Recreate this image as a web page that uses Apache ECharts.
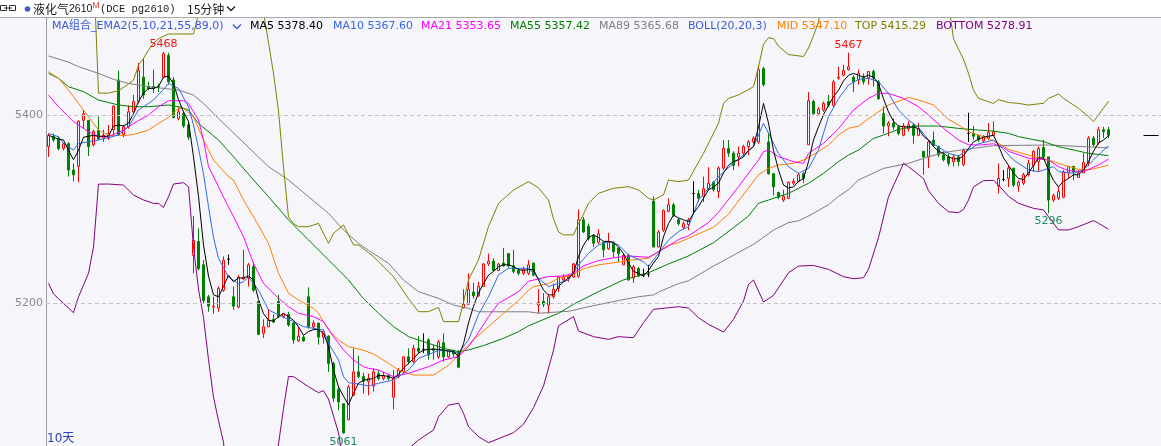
<!DOCTYPE html>
<html><head><meta charset="utf-8">
<script src="https://cdn.jsdelivr.net/npm/echarts@6/dist/echarts.min.js"></script>
<style>html,body{margin:0;padding:0;background:#f5f5fa;}#c{width:1161px;height:446px;}</style>
</head><body><div id="c"></div>
<script>
// ---- candle data (15-minute bars), index 0..212 ----
const opens = [
5367,5378,5376,5365,5370,5342,5346,5395,5395,5369,
5384,5376,5376,5385,5438,5380,5388,5404,5415,5441,
5431,5431,5431,5441,5464,5438,5397,5402,5390,5251,
5266,5241,5207,5196,5195,5214,5247,5207,5196,5226,
5227,5239,5202,5168,5175,5183,5202,5186,5188,5179,
5160,5164,5207,5175,5179,5164,5165,5136,5108,5093,
5076,5102,5127,5122,5117,5112,5125,5120,5123,5100,
5122,5127,5143,5138,5152,5151,5161,5152,5143,5158,
5143,5150,5149,5195,5199,5212,5208,5218,5242,5245,
5235,5243,5253,5240,5235,5232,5232,5243,5198,5202,
5198,5207,5216,5225,5227,5228,5229,5289,5282,5272,
5265,5265,5258,5264,5259,5241,5251,5227,5237,5231,
5231,5309,5260,5278,5298,5305,5289,5281,5284,5317,
5317,5314,5322,5329,5319,5344,5365,5360,5356,5360,
5367,5372,5372,5450,5372,5338,5318,5310,5312,5328,
5330,5338,5369,5415,5402,5406,5415,5411,5440,5443,
5449,5441,5438,5441,5440,5447,5436,5402,5389,5392,
5388,5379,5386,5390,5379,5362,5356,5374,5367,5358,
5356,5351,5356,5348,5381,5381,5379,5373,5376,5379,
5325,5332,5333,5344,5325,5328,5337,5347,5351,5366,
5356,5310,5312,5313,5339,5346,5334,5339,5350,5376,
5371,5385,5385];
const closes = [
5379,5374,5365,5370,5342,5337,5394,5402,5367,5383,
5375,5379,5381,5410,5380,5388,5404,5415,5448,5422,
5429,5429,5430,5466,5436,5398,5404,5389,5377,5267,
5237,5203,5197,5197,5216,5246,5247,5197,5228,5228,
5241,5214,5167,5175,5182,5180,5186,5189,5177,5161,
5165,5160,5175,5179,5164,5170,5136,5099,5095,5062,
5111,5127,5122,5117,5120,5127,5120,5123,5120,5120,
5129,5143,5138,5152,5149,5151,5145,5150,5159,5143,
5150,5146,5132,5199,5215,5208,5218,5242,5245,5235,
5242,5240,5240,5234,5232,5236,5241,5230,5201,5199,
5207,5215,5228,5228,5229,5242,5289,5276,5269,5264,
5274,5257,5265,5255,5253,5251,5225,5239,5229,5231,
5231,5260,5276,5299,5305,5294,5285,5285,5289,5317,
5312,5322,5328,5321,5344,5365,5360,5347,5360,5367,
5372,5376,5449,5433,5338,5324,5313,5314,5329,5330,
5337,5333,5416,5402,5407,5413,5411,5436,5441,5448,
5452,5436,5445,5436,5447,5440,5418,5389,5392,5388,
5381,5389,5390,5379,5386,5356,5372,5368,5358,5353,
5349,5356,5351,5363,5381,5378,5374,5378,5382,5383,
5333,5332,5344,5326,5329,5337,5349,5362,5365,5356,
5310,5315,5319,5340,5346,5340,5339,5350,5376,5369,
5385,5383,5379];
const lows = [
5356,5372,5363,5363,5335,5330,5329,5386,5357,5367,
5374,5372,5374,5378,5379,5377,5386,5404,5413,5418,
5427,5424,5425,5440,5433,5397,5395,5387,5374,5232,
5235,5200,5191,5189,5191,5212,5241,5193,5195,5225,
5218,5212,5166,5163,5175,5179,5184,5184,5175,5157,
5159,5159,5173,5172,5156,5157,5127,5095,5086,5061,
5076,5102,5120,5104,5102,5106,5118,5118,5118,5087,
5120,5125,5135,5136,5147,5147,5140,5140,5141,5138,
5142,5143,5131,5195,5199,5205,5207,5218,5240,5234,
5235,5239,5238,5232,5230,5230,5230,5229,5189,5196,
5189,5205,5212,5223,5223,5227,5227,5275,5267,5260,
5263,5249,5257,5249,5244,5241,5224,5222,5228,5228,
5228,5260,5260,5276,5297,5292,5283,5279,5278,5296,
5308,5308,5321,5319,5312,5342,5356,5342,5346,5356,
5358,5370,5370,5431,5337,5315,5311,5308,5311,5326,
5329,5328,5369,5401,5401,5404,5409,5409,5438,5442,
5448,5425,5433,5433,5433,5431,5417,5381,5378,5385,
5379,5378,5383,5370,5378,5337,5344,5367,5356,5351,
5346,5346,5346,5346,5372,5374,5372,5371,5374,5378,
5317,5330,5324,5324,5319,5326,5335,5340,5340,5354,
5296,5308,5310,5312,5333,5331,5334,5339,5346,5367,
5369,5376,5376];
const highs = [
5381,5381,5378,5371,5372,5349,5395,5406,5395,5385,
5399,5385,5390,5411,5448,5390,5411,5422,5456,5461,
5436,5449,5434,5468,5467,5441,5409,5404,5393,5293,
5280,5246,5209,5207,5218,5250,5252,5218,5230,5257,
5243,5244,5202,5183,5194,5188,5209,5190,5191,5180,
5175,5166,5217,5182,5179,5172,5166,5138,5111,5093,
5113,5152,5144,5126,5125,5131,5129,5127,5125,5129,
5131,5143,5152,5156,5165,5168,5163,5156,5161,5168,
5150,5150,5150,5215,5232,5222,5223,5243,5253,5248,
5243,5259,5253,5257,5237,5239,5246,5243,5215,5211,
5210,5221,5229,5231,5230,5243,5300,5292,5285,5274,
5279,5266,5275,5266,5259,5253,5253,5241,5239,5237,
5241,5314,5278,5300,5312,5307,5291,5287,5291,5330,
5321,5335,5345,5330,5346,5374,5374,5362,5367,5369,
5374,5378,5454,5452,5382,5339,5319,5321,5330,5333,
5339,5340,5425,5417,5409,5415,5422,5438,5452,5454,
5467,5443,5449,5445,5447,5449,5438,5410,5394,5397,
5390,5392,5394,5392,5392,5362,5374,5383,5368,5362,
5360,5358,5358,5365,5403,5389,5379,5379,5392,5394,
5349,5342,5347,5344,5331,5339,5353,5363,5367,5374,
5356,5317,5324,5342,5346,5346,5342,5360,5378,5378,
5388,5388,5388];

// ---- indicator lines ----
const ma5 = [
5379,5377,5375,5374,5363,5353,5363,5377,5378,5379,
5378,5378,5378,5389,5390,5389,5392,5402,5415,5424,
5429,5429,5431,5441,5442,5434,5417,5404,5394,5356,
5314,5262,5229,5209,5207,5218,5230,5223,5227,5227,
5229,5225,5204,5189,5182,5181,5186,5189,5186,5182,
5175,5166,5170,5172,5172,5168,5154,5129,5111,5101,
5092,5104,5115,5118,5119,5120,5123,5123,5122,5120,
5124,5131,5136,5141,5147,5150,5151,5151,5151,5150,
5149,5149,5143,5157,5179,5197,5211,5221,5230,5234,
5239,5241,5241,5239,5236,5235,5236,5236,5225,5214,
5209,5209,5218,5223,5227,5232,5250,5262,5270,5273,
5270,5266,5266,5265,5260,5253,5243,5234,5232,5229,
5235,5243,5250,5271,5285,5294,5291,5289,5287,5296,
5303,5312,5321,5324,5328,5339,5347,5351,5353,5356,
5363,5367,5388,5413,5392,5363,5342,5326,5323,5324,
5330,5333,5351,5374,5388,5401,5411,5420,5427,5437,
5443,5445,5443,5441,5443,5441,5434,5418,5404,5394,
5389,5388,5388,5388,5386,5378,5374,5367,5362,5360,
5356,5354,5354,5357,5365,5372,5375,5377,5378,5379,
5368,5355,5347,5339,5333,5332,5339,5347,5355,5355,
5342,5331,5324,5330,5333,5337,5337,5342,5351,5362,
5371,5374,5378.4];
const ma10Pts = [[0,5381],[2,5377.5],[3,5370.4],[5,5363.3],[6,5370.4],[8,5372.2],[10,5374],[14,5379.3],[16,5388.2],[18,5405.9],[21,5416.6],[23,5428],[24,5434.3],[26,5429],[28,5409.5],[29,5390],[30,5365],[31,5338],[32,5303],[33,5270],[34,5248],[35,5238],[36,5228],[38,5221],[39,5223],[40,5228],[42,5214],[44,5193],[46,5187.6],[49,5180.5],[51,5175.2],[53,5173.4],[55,5171.6],[56,5157.4],[58,5139.6],[59,5121.9],[60,5115.5],[62,5114],[64,5112],[66,5114.8],[69,5118.3],[72,5129],[74,5141.4],[78,5149.6],[80,5149.6],[82,5146.8],[84,5161],[86,5188],[88,5207.1],[90,5230.2],[92,5237.3],[96,5237.3],[98,5226.7],[100,5217.8],[102,5221.4],[104,5224.9],[106,5240.9],[108,5253.3],[110,5262.2],[112,5265.8],[114,5262.2],[116,5251.5],[119,5244.4],[120,5239.1],[122,5253.3],[124,5267.5],[126,5276.4],[128,5281.7],[130,5310.1],[134,5335],[137,5349.2],[141,5366.9],[143,5391.8],[144,5381.1],[146,5359.8],[148,5345.6],[150,5338.5],[152,5343.8],[154,5363.4],[156,5398.9],[158,5418],[160,5432.6],[162,5438.6],[164,5439.7],[166,5436.1],[168,5423.7],[170,5405.9],[172,5395.3],[174,5387.5],[176,5374],[178,5366.2],[180,5360],[182,5357],[184,5363.3],[186,5370],[189,5374],[191,5364],[193,5352.7],[196,5342.1],[198,5340.3],[200,5343.8],[201,5345.6],[202,5340.3],[205,5338.5],[207,5342.1],[209,5352.7],[211,5363.4],[212,5367.6]];
const ma21Pts = [[0,5421.9],[2,5409.5],[5,5393.5],[8,5382.8],[10,5377.5],[12,5377.5],[15,5384.6],[17,5391.7],[20,5400.6],[22,5409.5],[24,5415.9],[27,5415.9],[28,5413],[30,5395.3],[31,5374],[32,5345.6],[34,5324.3],[35,5313],[37,5292.3],[39,5271],[41,5242.6],[43,5221.3],[46,5205.3],[48,5196.5],[50,5189.4],[53,5185.8],[55,5180.5],[57,5164.5],[59,5150.3],[61,5139.6],[63,5132.5],[64,5130.8],[66,5129],[69,5121.9],[72,5125.4],[76,5132.5],[79,5139.6],[82,5143.2],[84,5153.9],[86,5169],[88,5185.8],[90,5200],[94,5212.4],[96,5223.5],[100,5228.5],[103,5229.2],[105,5232],[107,5240],[110,5245.5],[113,5248.5],[116,5250.5],[120,5249],[122,5255],[124,5261],[126,5268],[128,5272],[130,5279],[132,5286],[134,5297],[138,5324.3],[142,5352.7],[143,5361.6],[144,5363.4],[146,5356.3],[149,5350.9],[151,5349.1],[152,5359.8],[155,5370.5],[158,5386],[161,5405.9],[164,5418.4],[166,5423.7],[168,5423.7],[171,5418.4],[174,5409.5],[176,5400.6],[179,5386.4],[182,5374],[184,5369],[186,5368.6],[189,5370],[191,5366],[192,5362],[196,5354.5],[200,5352.7],[202,5345.6],[204,5341.4],[207,5340.3],[210,5347.4],[212,5353.65]];
const ma55Pts = [[0,5445],[2,5439.7],[4,5430.8],[7,5425.5],[10,5416.6],[14,5411.3],[17,5409.5],[20,5409.5],[24,5411.3],[26,5409.5],[28,5405.9],[30,5391.7],[34,5374],[37,5356.2],[41,5331.4],[44,5313.6],[48,5288.8],[52,5267.5],[56,5246.2],[60,5224.9],[63,5205],[66,5189.4],[69,5175.2],[72,5164.5],[76,5157.4],[79,5152.1],[82,5148.5],[84,5150.3],[87,5155],[91,5162.7],[94,5169.8],[96,5176],[98,5180.5],[102,5189.4],[105,5199],[110,5212.5],[115,5225],[120,5232.6],[124,5242],[128,5250.5],[133,5264.6],[137,5280.6],[140,5293],[142,5306.6],[144,5310.1],[148,5317.2],[152,5327.9],[155,5338.5],[158,5351],[160,5358],[162,5363.3],[165,5375.7],[167,5379.3],[170,5385.3],[174,5388.9],[178,5388.9],[182,5386.4],[186,5384.6],[189,5383.5],[192,5381.1],[194,5377.6],[199,5372.3],[202,5366.9],[205,5363.4],[208,5359.8],[212,5357.42]];
const ma89Pts = [[0,5463.5],[4,5457],[6,5452.1],[10,5445],[13,5438.6],[16,5434.3],[20,5430.8],[23,5429],[26,5427.2],[29,5421.9],[31,5413],[34,5397],[44,5345.6],[48,5331.4],[52,5313.6],[56,5295.9],[59,5278.1],[62,5263.9],[64,5256.5],[68,5242.6],[71,5224.8],[74,5212.4],[78,5205.3],[81,5198.2],[84,5194.7],[86,5191],[96,5191],[98,5189.5],[104,5191.5],[109,5197.5],[114,5203],[118,5207],[121,5209],[122,5212],[126,5221],[128,5224],[133,5239.7],[141,5262.8],[145,5278],[148,5286],[150,5288],[152,5293],[156,5305],[158,5314],[160,5321],[162,5331.4],[167,5343.8],[172,5349.1],[176,5356.2],[180,5361.5],[185,5365.1],[189,5368],[200,5368.7],[212,5365.68]];
const midPts = [[0,5446.8],[2,5439.7],[4,5427.2],[6,5413],[8,5398.8],[10,5384.6],[12,5379.3],[15,5378.6],[17,5380],[20,5384.6],[22,5391.7],[24,5398.1],[26,5407.7],[27,5407.7],[29,5398.8],[31,5374],[33,5352.7],[36,5335],[37,5331.4],[39,5310.1],[41,5292.3],[44,5263.9],[46,5232],[48,5210.7],[50,5203.6],[53,5194.7],[54,5189.4],[56,5171.6],[58,5161],[60,5153.9],[63,5150],[65,5146],[68,5136.1],[70,5129],[73,5123.6],[77,5123.6],[80,5134],[82,5145],[85,5161],[88,5175.2],[91,5189.4],[94,5203],[96,5214],[97,5217.8],[100,5221],[102,5226.7],[105,5230.5],[107,5237],[110,5241],[114,5244],[118,5247],[120,5248],[122,5255],[124,5262],[126,5264.6],[129,5271.7],[133,5281],[136,5295],[142,5337],[144,5343.8],[146,5347.4],[149,5349.2],[151,5352.7],[154,5361.6],[156,5368.7],[158,5379.3],[160,5386.5],[162,5388.9],[165,5400.6],[168,5411.3],[172,5419.4],[174,5416.6],[177,5411.3],[180,5396],[182,5390],[184,5383],[187,5377.5],[190,5370.5],[192,5364],[194,5361],[197,5356.3],[200,5352.7],[203,5347.4],[206,5342.8],[208,5342.1],[212,5347.1]];
const topPts = [[0,5560],[9,5560],[10,5424],[12,5424],[14,5426.5],[16,5433.6],[17,5437.9],[18,5453.9],[19,5461],[20,5469.8],[21,5477],[22,5482],[24,5487],[29,5487],[31,5530],[32,5560],[42,5560],[43,5510],[44,5478],[45,5445],[46,5405],[47,5345],[48,5292],[49,5285],[50,5281.7],[52,5281.7],[54,5285.2],[56,5263.9],[57,5274.6],[59,5283.5],[61,5262.2],[62,5262.2],[65,5249.7],[69,5228.4],[72,5205],[74,5191.1],[76,5191.1],[78,5195.7],[79,5180.5],[82,5180.5],[83,5201],[84,5225],[86,5246.2],[88,5281.7],[90,5306.5],[93,5320.7],[96,5329.7],[98,5323],[100,5310],[101,5290],[102,5276],[103,5273],[105,5273],[106,5285],[107,5295],[108,5306.6],[110,5317.2],[113,5322.6],[116,5324.3],[118,5320.8],[120,5311.9],[121,5310.1],[123,5315.5],[124,5331.4],[126,5329.6],[128,5331.4],[131,5359.8],[134,5391.8],[135,5413.1],[136,5418.4],[138,5422],[141,5430.8],[142,5452],[143,5476],[144,5483],[145,5482],[146,5474],[148,5465],[151,5463],[152,5472],[153,5485],[154,5500],[156,5560],[179,5560],[180,5520],[181,5482],[183,5460],[184,5445],[185,5427],[186,5418.4],[189,5413],[190,5417],[192,5414],[194,5413],[196,5411.3],[199,5413.1],[200,5418.4],[202,5423],[203,5418.4],[206,5407.8],[208,5398.9],[209,5393.6],[210,5400.7],[212,5415.29]];
const bottomPts = [[0,5221.3],[1,5210],[2,5205],[3,5200],[5,5190],[6,5207],[8,5232],[9,5260],[10,5327],[12,5327.1],[15,5326],[17,5315.4],[19,5310.1],[21,5306.5],[22,5306.5],[23,5302.2],[24,5313.6],[25,5327.1],[27,5328.5],[28,5324.3],[29,5260.3],[30,5215],[31,5185],[32,5140],[33,5100],[34,5075],[35,5052],[36,5000],[45,5000],[46,5050],[47,5088],[48,5122],[49,5121.9],[52,5111.2],[54,5104.8],[55,5107],[56,5098],[57,5080],[58,5062],[59,5030],[60,5000],[71,5000],[72,5045],[74,5054.4],[77,5065],[78,5079.2],[80,5091.6],[82,5093.5],[83,5082.8],[84,5068.5],[86,5058],[88,5051.5],[90,5055.8],[93,5062.2],[95,5071.1],[97,5088.8],[99,5111.9],[101,5150],[102,5176],[105,5185.8],[106,5170.5],[109,5164.5],[112,5161.6],[114,5164.5],[117,5163.4],[119,5179.4],[121,5193.6],[124,5195.3],[126,5196.4],[128,5195],[130,5184.7],[132,5177.6],[135,5169.4],[137,5182.9],[139,5202.4],[140,5220.2],[141,5224.8],[143,5201.4],[145,5208.5],[148,5232.6],[150,5239.7],[153,5240.4],[156,5236.2],[159,5228.4],[161,5226.2],[163,5227.3],[164,5236.2],[166,5270],[168,5313.6],[171,5349.1],[172,5345.6],[175,5333],[176,5320],[178,5306.5],[180,5297.6],[182,5296.6],[183,5300],[184,5310],[185,5324],[187,5330.7],[189,5331],[190,5326],[192,5314],[194,5306.6],[197,5301.2],[199,5299.5],[200,5292.4],[202,5278.2],[204,5278.2],[206,5281.7],[209,5288.1],[210,5285.3],[212,5278.91]];

const yTickLabels = [5200, 5400];
const extremeMarks = [{i:23, at:'high'}, {i:160, at:'high'}, {i:59, at:'low'}, {i:200, at:'low'}];
const legendItems = [
  {text:'MA组合_EMA2(5,10,21,55,89,0)', color:'#3c5ad8', x:52},
  {text:'MA5 5378.40', color:'#000000', x:250},
  {text:'MA10 5367.60', color:'#3567e8', x:333},
  {text:'MA21 5353.65', color:'#ff00ff', x:421},
  {text:'MA55 5357.42', color:'#008000', x:510},
  {text:'MA89 5365.68', color:'#808080', x:599},
  {text:'BOLL(20,20,3)', color:'#3c5ad8', x:688},
  {text:'MID 5347.10', color:'#ff8000', x:777},
  {text:'TOP 5415.29', color:'#808000', x:855},
  {text:'BOTTOM 5278.91', color:'#800080', x:936}
];
const TOTAL_SLOTS = 223;
const categories = Array.from({length: TOTAL_SLOTS}, (_, k) => 'K' + k);
const lastIdx = closes.length - 1;
const lastClose = closes[lastIdx];

const BG = '#f5f5fa';
const FONT = '"DejaVu Sans", "Noto Sans CJK SC", sans-serif';

function lineSeries(name, data, color, z) {
  return {name, type:'line', data, showSymbol:false, symbol:'none', clip:true, z: z || 3,
    lineStyle:{color, width:1}, itemStyle:{color}, animation:false, silent:true};
}

const chart = echarts.init(document.getElementById('c'), null, {renderer:'canvas'});
const graphics = [
  {type:'rect', shape:{x:0,y:0,width:1161,height:17}, style:{fill:'#ffffff'}, z:100},
  {type:'line', shape:{x1:0,y1:17.5,x2:1161,y2:17.5}, style:{stroke:'#a9a9a9', lineWidth:1}, z:101},
  {type:'rect', shape:{x:0.5,y:5.5,width:6,height:5}, style:{fill:'none', stroke:'#333', lineWidth:1}, z:101},
  {type:'rect', shape:{x:9.5,y:5.5,width:6,height:5}, style:{fill:'none', stroke:'#333', lineWidth:1}, z:101},
  {type:'line', shape:{x1:4,y1:8,x2:12,y2:8}, style:{stroke:'#333', lineWidth:1}, z:101},
  {type:'circle', shape:{cx:27.5,cy:9,r:2.8}, style:{fill:'#3a5fcd'}, z:101},
  {type:'text', x:33, y:9.5, style:{text:'液化气', fill:'#1a1a1a', font:'12px "Noto Sans CJK SC"', verticalAlign:'middle'}, z:101},
  {type:'text', x:69, y:9.5, style:{text:'2610', fill:'#1a1a1a', font:'10.5px "Liberation Sans"', verticalAlign:'middle'}, z:101},
  {type:'text', x:92.5, y:6, style:{text:'M', fill:'#e83030', font:'8.5px "Liberation Sans"', verticalAlign:'middle'}, z:101},
  {type:'text', x:100, y:9.5, style:{text:'(DCE pg2610)', fill:'#1a1a1a', font:'10.5px "Liberation Mono"', verticalAlign:'middle'}, z:101},
  {type:'text', x:187, y:9.5, style:{text:'15分钟', fill:'#1a1a1a', font:'12px "Noto Sans CJK SC"', verticalAlign:'middle'}, z:101},
  {type:'polyline', shape:{points:[[227,6.5],[231,10.5],[235,6.5]]}, style:{stroke:'#1a1a1a', lineWidth:1.3, fill:'none'}, z:101},
  {type:'polyline', shape:{points:[[233,24.5],[237,28.5],[241,24.5]]}, style:{stroke:'#3c5ad8', lineWidth:1.3, fill:'none'}, z:101},
  {type:'text', x:47, y:439, style:{text:'10天', fill:'#2842b4', font:'12px ' + FONT, verticalAlign:'middle'}, z:101}
];
legendItems.forEach(it => graphics.push({type:'text', x:it.x, y:26.5,
  style:{text:it.text, fill:it.color, font:'11px ' + FONT, verticalAlign:'middle'}, z:101}));

chart.setOption({
  backgroundColor: BG,
  animation: false,
  grid: {left:46, right:0, top:18, bottom:0, containLabel:false},
  xAxis: {type:'category', data:categories, boundaryGap:true, show:false},
  yAxis: {type:'value', min:5048, max:5504, interval:8, position:'left',
    axisLine:{show:true, lineStyle:{color:'#9c9c9c', width:1}},
    axisTick:{show:false}, splitLine:{show:false},
    axisLabel:{color:'#8a8a8a', fontFamily:'DejaVu Sans', fontSize:11, margin:3,
      formatter: v => yTickLabels.indexOf(v) >= 0 ? String(v) : ''}},
  graphic: graphics,
  series: [
    {type:'candlestick', name:'K', z:2, barWidth:3,
      data: opens.map((o,k) => [o, closes[k], lows[k], highs[k]]),
      itemStyle:{color:BG, color0:'#008000', borderColor:'#ff0000', borderColor0:'#008000', borderColorDoji:'#000000', borderWidth:1},
      markLine:{symbol:['none','none'], silent:true, label:{show:false}, animation:false,
        data:[
          {yAxis:5400, lineStyle:{color:'#c2c2c2', type:[4,3], width:1}},
          {yAxis:5200, lineStyle:{color:'#c2c2c2', type:[4,3], width:1}},
          [{coord:[categories[219], lastClose], lineStyle:{color:'#000', type:'solid', width:1}}, {coord:[categories[222], lastClose]}]
        ]},
      markPoint:{symbol:'circle', symbolSize:1, silent:true, animation:false, itemStyle:{color:'rgba(0,0,0,0)'},
        data: extremeMarks.map(m => {
          const val = m.at === 'high' ? highs[m.i] : lows[m.i];
          return {coord:[categories[m.i], val], value:val,
            label:{show:true, position: m.at === 'high' ? 'top' : 'bottom', distance:2,
              color: m.at === 'high' ? '#f01414' : '#1f8a5c', fontSize:11, fontFamily:'DejaVu Sans', formatter:String(val)}};
        })}
    },
    lineSeries('MA89', ma89Pts, '#808080'),
    lineSeries('MA55', ma55Pts, '#008000'),
    lineSeries('MID', midPts, '#ff8000'),
    lineSeries('TOP', topPts, '#808000'),
    lineSeries('BOTTOM', bottomPts, '#800080'),
    lineSeries('MA21', ma21Pts, '#ff00ff'),
    lineSeries('MA10', ma10Pts, '#2f6be4'),
    lineSeries('MA5', ma5.map((v,k) => [k, v]), '#000000', 4)
  ]
});
</script></body></html>
